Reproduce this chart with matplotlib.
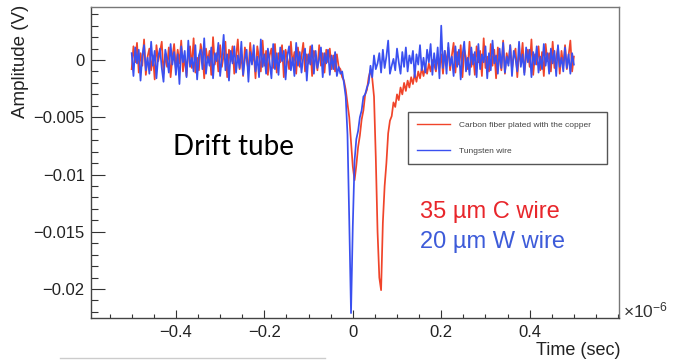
import numpy as np
import matplotlib
matplotlib.use("Agg")
import matplotlib.pyplot as plt
from matplotlib.ticker import FixedLocator, MultipleLocator
from matplotlib.lines import Line2D

plt.rcParams["font.family"] = ["Liberation Sans", "DejaVu Sans"]
plt.rcParams["mathtext.fontset"] = "custom"
plt.rcParams["mathtext.rm"] = "Liberation Sans"
plt.rcParams["mathtext.it"] = "Liberation Sans:italic"

# Sampled waveforms, amplitudes in mV, 251 samples from -0.5 us to +0.5 us
n_samples = 251
t_start, t_stop = -0.5e-6, 0.5e-6

carbon_mv = [
    -0.8, 1.2, -0.2, 1.5, -1.1, 0.6, -0.5, 1.8, -1.3, 0.3,
    1.0, -0.9, 0.4, -1.7, 1.3, -0.1, 0.7, 1.6, -1.2, 0.5,
    -0.6, 1.1, -1.5, 0.2, 1.4, -0.8, 0.9, -0.3, 1.7, -1.0,
    0.3, -1.4, 0.6, 1.2, -0.7, 1.9, -1.1, 0.2, -0.9, 1.4,
    0.5, -1.6, 1.0, -0.2, 0.8, -1.3, 2.0, -0.4, 0.6, -1.0,
    1.3, -0.6, 0.4, 1.6, -1.5, 0.9, -0.1, 1.2, -1.2, 0.3,
    1.8, -0.8, 0.5, -1.4, 1.1, 0.0, -0.9, 1.5, -0.3, 0.7,
    -1.6, 1.2, 0.2, -1.0, 1.7, -0.5, 0.8, -1.3, 0.4, 1.0,
    -0.7, 1.4, -1.1, 0.6, -0.2, 1.3, -1.5, 0.9, 0.1, -0.8,
    1.6, -0.4, 0.7, -1.2, 1.1, -0.6, 0.3, 1.5, -1.0, 0.5,
    -0.3, 1.2, -1.4, 0.8, 0.2, -0.9, 1.3, -0.5, 0.6, -1.1,
    0.9, -0.2, 1.0, -0.8, 0.4, -1.0, 0.5, -0.6,
    # first and second pulse
    -0.8, -1.5, -1.8, -2.6, -3.8, -5.0, -7.2, -9.3, -10.5, -9.2,
    -7.6, -6.6, -5.2, -4.4, -3.0, -2.6, -1.5, -0.9, -1.6, -3.2,
    -8.5, -15.0, -19.0, -20.1, -14.2, -11.0, -9.0, -6.4, -5.3, -4.9,
    -3.7, -4.1, -3.0, -3.5, -2.4, -3.0, -2.0, -2.7, -1.8, -2.4,
    -1.5, -2.1, -1.2, -1.9, -1.0, -1.6, -0.7, -1.4, -0.5, -1.2,
    -0.3, -1.0, 0.0,
    # tail
    -0.4, -1.0, 0.2, -0.7, 0.5, -1.2, 0.8, -0.3, 1.1, -0.9,
    0.4, 1.5, -1.1, 0.7, -0.4, 1.3, -1.5, 0.9, 0.2, -0.8,
    1.6, -0.6, 0.5, -1.3, 1.2, -0.2, 0.8, -1.4, 1.9, -0.7,
    0.3, -1.0, 1.4, -0.5, 0.9, -1.6, 1.1, 0.1, -0.9, 1.7,
    -1.2, 0.6, -0.3, 1.3, -0.8, 0.4, 1.0, -1.5, 0.7, -0.2,
    1.5, -1.1, 0.3, 0.9, -0.6, 1.8, -1.3, 0.5, -0.4, 1.2,
    -0.9, 0.7, -1.4, 1.4, -0.1, 0.6, -1.0, 1.6, -0.7, 0.2,
    1.1, -1.2, 0.8, -0.5, 1.3, -0.8, 0.4, 1.7, -1.0, 0.3,
]

tungsten_mv = [
    0.6, -1.4, 1.1, -0.3, 0.9, -1.8, 0.4, 1.3, -0.9, 0.2,
    -1.2, 1.6, -0.5, 0.8, -1.6, 0.3, 1.0, -0.7, -1.9, 0.9,
    0.1, -1.1, 1.4, -0.4, 0.7, -1.3, 0.5, -2.1, 1.2, -0.2,
    0.8, -1.5, 1.7, -0.6, 0.2, -1.0, 1.3, -1.7, 0.4, 0.9,
    -0.8, 1.9, -1.2, 0.3, -0.5, 1.1, -1.6, 0.6, -0.1, 1.5,
    -1.4, 0.2, 2.2, -0.9, 0.5, -1.8, 0.8, -0.3, 1.2, -1.1,
    0.4, -0.7, 1.6, -1.3, 0.1, 0.9, -1.9, 0.7, -0.4, 1.3,
    -1.0, 0.3, -1.5, 1.8, -0.6, 0.5, -1.2, 1.0, -0.2, -1.6,
    1.4, -0.8, 0.6, -1.3, 1.1, -0.1, 0.8, -1.7, 0.4, 1.2,
    -0.9, 0.2, -1.4, 1.5, -0.5, 0.7, -1.1, 0.3, 1.0, -1.8,
    0.5, -0.4, 1.3, -1.2, 0.8, -0.7, 0.1, 1.1, -1.5, 0.6,
    -0.3, 0.9, -1.3, 0.4, -0.8, 0.7, -1.4,
    # pulse
    -0.6, -1.2, -1.0, -2.0, -3.2, -6.5, -14.0, -22.1, -14.5, -8.8,
    -6.9, -6.2, -5.0, -4.4, -3.2, -3.0, -2.4, -2.0, -0.5, -1.5,
    0.4, -0.8,
    # tail
    -0.3, 0.6, -1.1, 0.9, -0.7, 0.3, 1.7, -1.2, -0.5, 0.1,
    -0.9, 1.0, -0.2, -1.2, 0.7, -0.6, 1.1, -1.0, 0.4, -0.3,
    0.8, -1.5, 0.5, -0.4, 1.3, -0.9, 0.2, -1.1, 0.9, -0.2,
    1.4, -1.3, 0.6, -0.8, 1.1, -1.6, 3.0, -0.7, 0.8, -1.2,
    1.5, -0.5, 0.3, -1.4, 1.2, -0.6, 0.9, -1.7, 0.4, 1.6,
    -1.0, 0.2, -1.3, 1.1, -0.4, 0.7, -1.5, 1.4, -0.8, 0.5,
    -0.2, 1.2, -1.6, 0.6, -0.9, 1.7, -0.3, 0.4, -1.2, 1.0,
    -0.7, 1.5, -1.1, 0.3, -0.5, 1.3, -1.4, 0.8, 0.1, -1.0,
    1.6, -0.6, 0.5, -1.3, 1.1, -0.2, 0.9, -1.5, 0.7, -0.4,
    1.2, -1.1, 0.3, -0.8, 1.4, -0.5, 0.6, -1.2, 1.0, -0.3,
    0.8, -1.4, 1.3, -0.6, 0.2, -1.0, 1.1, -0.7, 0.5, -1.2,
    0.6, -0.4,
]

series_labels = ["Carbon fiber plated with the copper", "Tungsten wire"]
y_ticks = [0.0, -0.005, -0.01, -0.015, -0.02]
y_tick_labels = ["0", "\u22120.005", "\u22120.01", "\u22120.015", "\u22120.02"]
x_ticks_us = [-0.4, -0.2, 0.0, 0.2, 0.4]
x_tick_labels = ["\u22120.4", "\u22120.2", "0", "0.2", "0.4"]

assert len(carbon_mv) == n_samples and len(tungsten_mv) == n_samples

time_s = np.linspace(t_start, t_stop, n_samples)
carbon_v = np.array(carbon_mv) * 1e-3
tungsten_v = np.array(tungsten_mv) * 1e-3

RED = "#f0442a"
BLUE = "#3a50f0"

fig = plt.figure(figsize=(6.8, 3.61), dpi=100)
W, H = 680, 361
ax = fig.add_axes([91 / W, 1 - 318 / H, (619 - 91) / W, (318 - 7) / H])

ax.plot(time_s, carbon_v, color=RED, lw=1.25, label=series_labels[0])
ax.plot(time_s, tungsten_v, color=BLUE, lw=1.25, label=series_labels[1])

ax.set_xlim(-0.592e-6, 0.602e-6)
ax.set_ylim(-0.02253, 0.00463)

ax.xaxis.set_major_locator(FixedLocator([v * 1e-6 for v in x_ticks_us]))
ax.set_xticklabels(x_tick_labels)
ax.xaxis.set_minor_locator(MultipleLocator(0.05e-6))
ax.yaxis.set_major_locator(FixedLocator(y_ticks))
ax.set_yticklabels(y_tick_labels)
ax.yaxis.set_minor_locator(MultipleLocator(0.001))

ax.tick_params(axis="both", which="both", direction="in", colors="#333333",
               labelcolor="#222222", labelsize=12, width=0.8)
ax.tick_params(axis="y", which="major", length=10, pad=4.5)
ax.tick_params(axis="y", which="minor", length=5)
ax.tick_params(axis="x", which="major", length=5.8, pad=5)
ax.tick_params(axis="x", which="minor", length=2.9)
ax.tick_params(top=False, right=False, which="both")

for side in ("left", "bottom"):
    ax.spines[side].set_color("#444444")
    ax.spines[side].set_linewidth(1.0)
for side in ("top", "right"):
    ax.spines[side].set_color("#777777")
    ax.spines[side].set_linewidth(1.0)

leg = ax.legend(loc="upper left", bbox_to_anchor=(0.600, 0.489, 0.377, 0.173),
                mode="expand", fontsize=6, frameon=True, fancybox=False,
                edgecolor="#555555", framealpha=1.0, borderpad=1.1,
                labelspacing=2.2, handlelength=4.0, handletextpad=1.0,
                borderaxespad=0.0)
leg.get_frame().set_linewidth(1.0)
for line in leg.get_lines():
    line.set_linewidth(1.0)
for txt in leg.get_texts():
    txt.set_color("#444444")

# annotations
fig.text(173 / W, 1 - 155 / H, "Drift tube", family="Lato", fontsize=20,
         color="black", va="baseline", ha="left")
fig.text(420 / W, 1 - 218 / H, "35 \u00b5m C wire", fontsize=17,
         color="#e8262b", va="baseline", ha="left")
fig.text(420 / W, 1 - 248 / H, "20 \u00b5m W wire", fontsize=17,
         color="#3d5bd9", va="baseline", ha="left")

# axis titles, ROOT-style alignment at the axis ends
fig.text(21 / W, 1 - 5 / H, "Amplitude (V)", rotation=90, fontsize=13.5,
         color="#222222", ha="center", va="top")
fig.text(620 / W, 1 - 342 / H, "Time (sec)", fontsize=13,
         color="#222222", ha="right", va="top")
fig.text(623 / W, 1 - 317 / H, r"$\times10^{-6}$", fontsize=12.5,
         color="#333333", ha="left", va="baseline")

fig.add_artist(Line2D([60 / W, 325 / W], [1 - 358 / H, 1 - 358 / H],
                      color="#cccccc", lw=1.0))

fig.savefig("out.png", dpi=100)
